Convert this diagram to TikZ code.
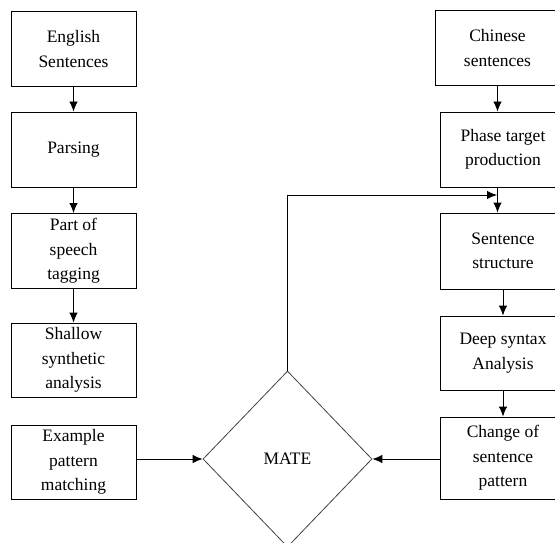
\documentclass[tikz,border=0pt]{standalone}
\usepackage{fontspec}
\setmainfont{Liberation Serif}
\usetikzlibrary{shapes.geometric,arrows.meta}
\tikzset{
  box/.style={draw, line width=0.9pt, minimum width=125pt, minimum height=75pt, inner sep=0pt, align=center, font=\fontsize{17.5}{24.5}\selectfont},
  decision/.style={draw=black!75, line width=0.8pt, diamond, minimum width=169pt, minimum height=176pt, inner sep=0pt, font=\fontsize{17.5}{24.5}\selectfont},
  flow/.style={line width=0.9pt, -{Latex[length=10pt,width=8.5pt]}},
}
\begin{document}
\begin{tikzpicture}[x=1pt,y=-1pt]
  \def\lx{73.5}
  \def\rx{503}
  \clip (0,0) rectangle (555,543);
  %left column
  \node[box] (eng) at (\lx,49) {English\\Sentences};
  \node[box] (par) at (\lx,149.5) {Parsing};
  \node[box] (pos) at (\lx,251) {Part of\\speech\\tagging};
  \node[box, minimum height=74pt] (sha) at (\lx,360) {Shallow\\synthetic\\analysis};
  \node[box, minimum height=74pt] (exa) at (\lx,462) {Example\\pattern\\matching};
  %right column
  \node[box] (chi) at (497.5,48) {Chinese\\sentences};
  \node[box] (pha) at (\rx,149.5) {Phase target\\production};
  \node[box, minimum height=76pt] (sen) at (\rx,251) {Sentence\\structure};
  \node[box, minimum height=74pt] (dee) at (\rx,353) {Deep syntax\\Analysis};
  \node[box, minimum height=82pt] (chg) at (\rx,458) {Change of\\sentence\\pattern};
  \node[decision] (mate) at (287.5,459) {MATE};
  \coordinate (fb) at (497,195);
  %arrows
  \draw[flow] (eng) -- (par);
  \draw[flow] (par) -- (pos);
  \draw[flow] (pos) -- (sha);
  \draw[flow] (mate.west -| exa.east) -- (mate.west);
  \draw[flow] (mate.east -| chg.west) -- (mate.east);
  \draw[flow] (chi) -- (chi |- pha.north);
  \draw[flow] (chi |- pha.south) -- (chi |- sen.north);
  \draw[flow] (sen) -- (dee);
  \draw[flow] (dee) -- (chg);
  \draw[flow] (mate.north) |- (fb);
\end{tikzpicture}
\end{document}
